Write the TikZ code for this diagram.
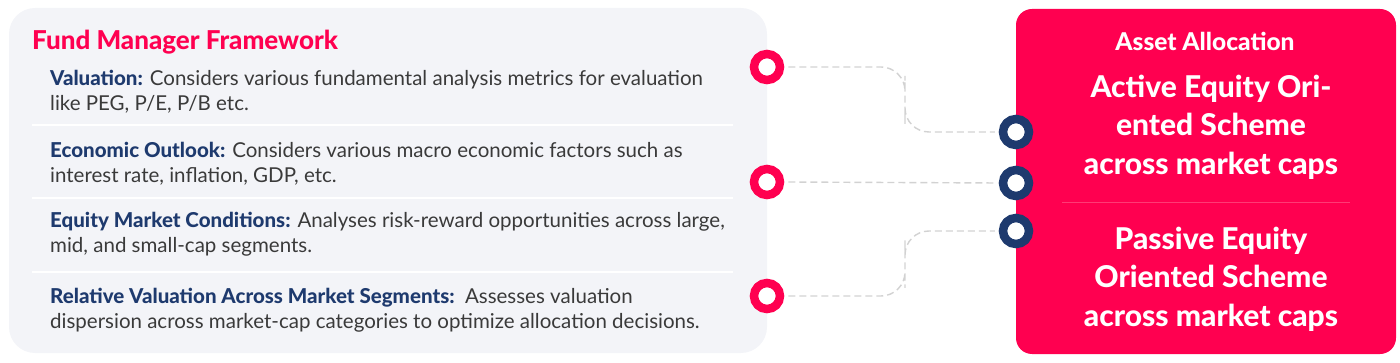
\documentclass[tikz,border=0pt]{standalone}
\usepackage{fontspec}
\setmainfont{Lato}[BoldFont={Lato Heavy}]
\usetikzlibrary{calc}
\definecolor{pinkred}{HTML}{FF0050}
\definecolor{navy}{HTML}{1E3A6E}
\definecolor{panelbg}{HTML}{F3F4F8}
\definecolor{bodytext}{HTML}{3A3A3A}
\definecolor{dashgray}{HTML}{D2D2D2}
\definecolor{seppink}{HTML}{FF3A75}
\tikzset{
  ringpink/.style={circle, draw=pinkred, fill=white, line width=8.5pt, minimum size=26pt, inner sep=0pt},
  ringnavy/.style={circle, draw=navy, fill=white, line width=8.5pt, minimum size=26pt, inner sep=0pt},
  conn/.style={draw=dashgray, line width=1.4pt, dash pattern=on 7pt off 4pt, rounded corners=24pt, shorten <=4pt, shorten >=4pt},
  itemtext/.style={anchor=west, align=left, inner sep=0pt, text=bodytext, font=\fontsize{20.5}{25}\selectfont},
  bigtext/.style={align=center, inner sep=0pt, text=white, font=\bfseries\fontsize{30}{38.5}\selectfont},
}
\newcommand{\lbl}[1]{\textcolor{navy}{\bfseries #1}}
\begin{document}
\begin{tikzpicture}[x=1pt,y=-1pt]
\useasboundingbox (0,0) rectangle (1400,363);
% left panel
\fill[panelbg, rounded corners=26pt] (9,8) rectangle (767,353);
\node[anchor=base west, inner sep=0pt, text=pinkred, font=\bfseries\fontsize{26}{30}\selectfont] (title) at (32,50) {Fund Manager Framework};
\foreach \yy in {125,198,272} \draw[white, line width=1.2pt] (32,\yy) -- (733,\yy);
\node[itemtext] (t1) at (50,91.5) {\lbl{Valuation:} Considers various fundamental analysis metrics for evaluation\\like PEG, P/E, P/B etc.};
\node[itemtext] (t2) at (50,164) {\lbl{Economic Outlook:} Considers various macro economic factors such as\\interest rate, inflation, GDP, etc.};
\node[itemtext] (t3) at (50,234.5) {\lbl{Equity Market Conditions:} Analyses risk-reward opportunities across large,\\mid, and small-cap segments.};
\node[itemtext] (t4) at (50,310) {\lbl{Relative Valuation Across Market Segments:}\ \ Assesses valuation\\dispersion across market-cap categories to optimize allocation decisions.};
% right box
\fill[pinkred, rounded corners=16pt] (1016,9) rectangle (1396,354);
\node[inner sep=0pt, text=white, font=\bfseries\fontsize{24.5}{30}\selectfont] (aa) at (1205,41) {Asset Allocation};
\node[bigtext] (act) at (1211,127) {Active Equity Ori-\\ented Scheme\\across market caps};
\draw[seppink, line width=0.8pt] (1062,202) -- (1350,202);
\node[bigtext] (pas) at (1211,279) {Passive Equity\\Oriented Scheme\\across market caps};
% rings
\node[ringpink] (p1) at (767,67) {};
\node[ringpink] (p2) at (767,182) {};
\node[ringpink] (p3) at (767,296) {};
\node[ringnavy] (n1) at (1016,132) {};
\node[ringnavy] (n2) at (1016,183) {};
\node[ringnavy] (n3) at (1016,231) {};
% connectors
\coordinate (c1) at (905,100);
\coordinate (c3) at (905,264);
\draw[conn] (p1.east) -| (c1) |- (n1.west);
\draw[conn] (p2.east) -- (n2.west);
\draw[conn] (p3.east) -| (c3) |- (n3.west);
\end{tikzpicture}
\end{document}
